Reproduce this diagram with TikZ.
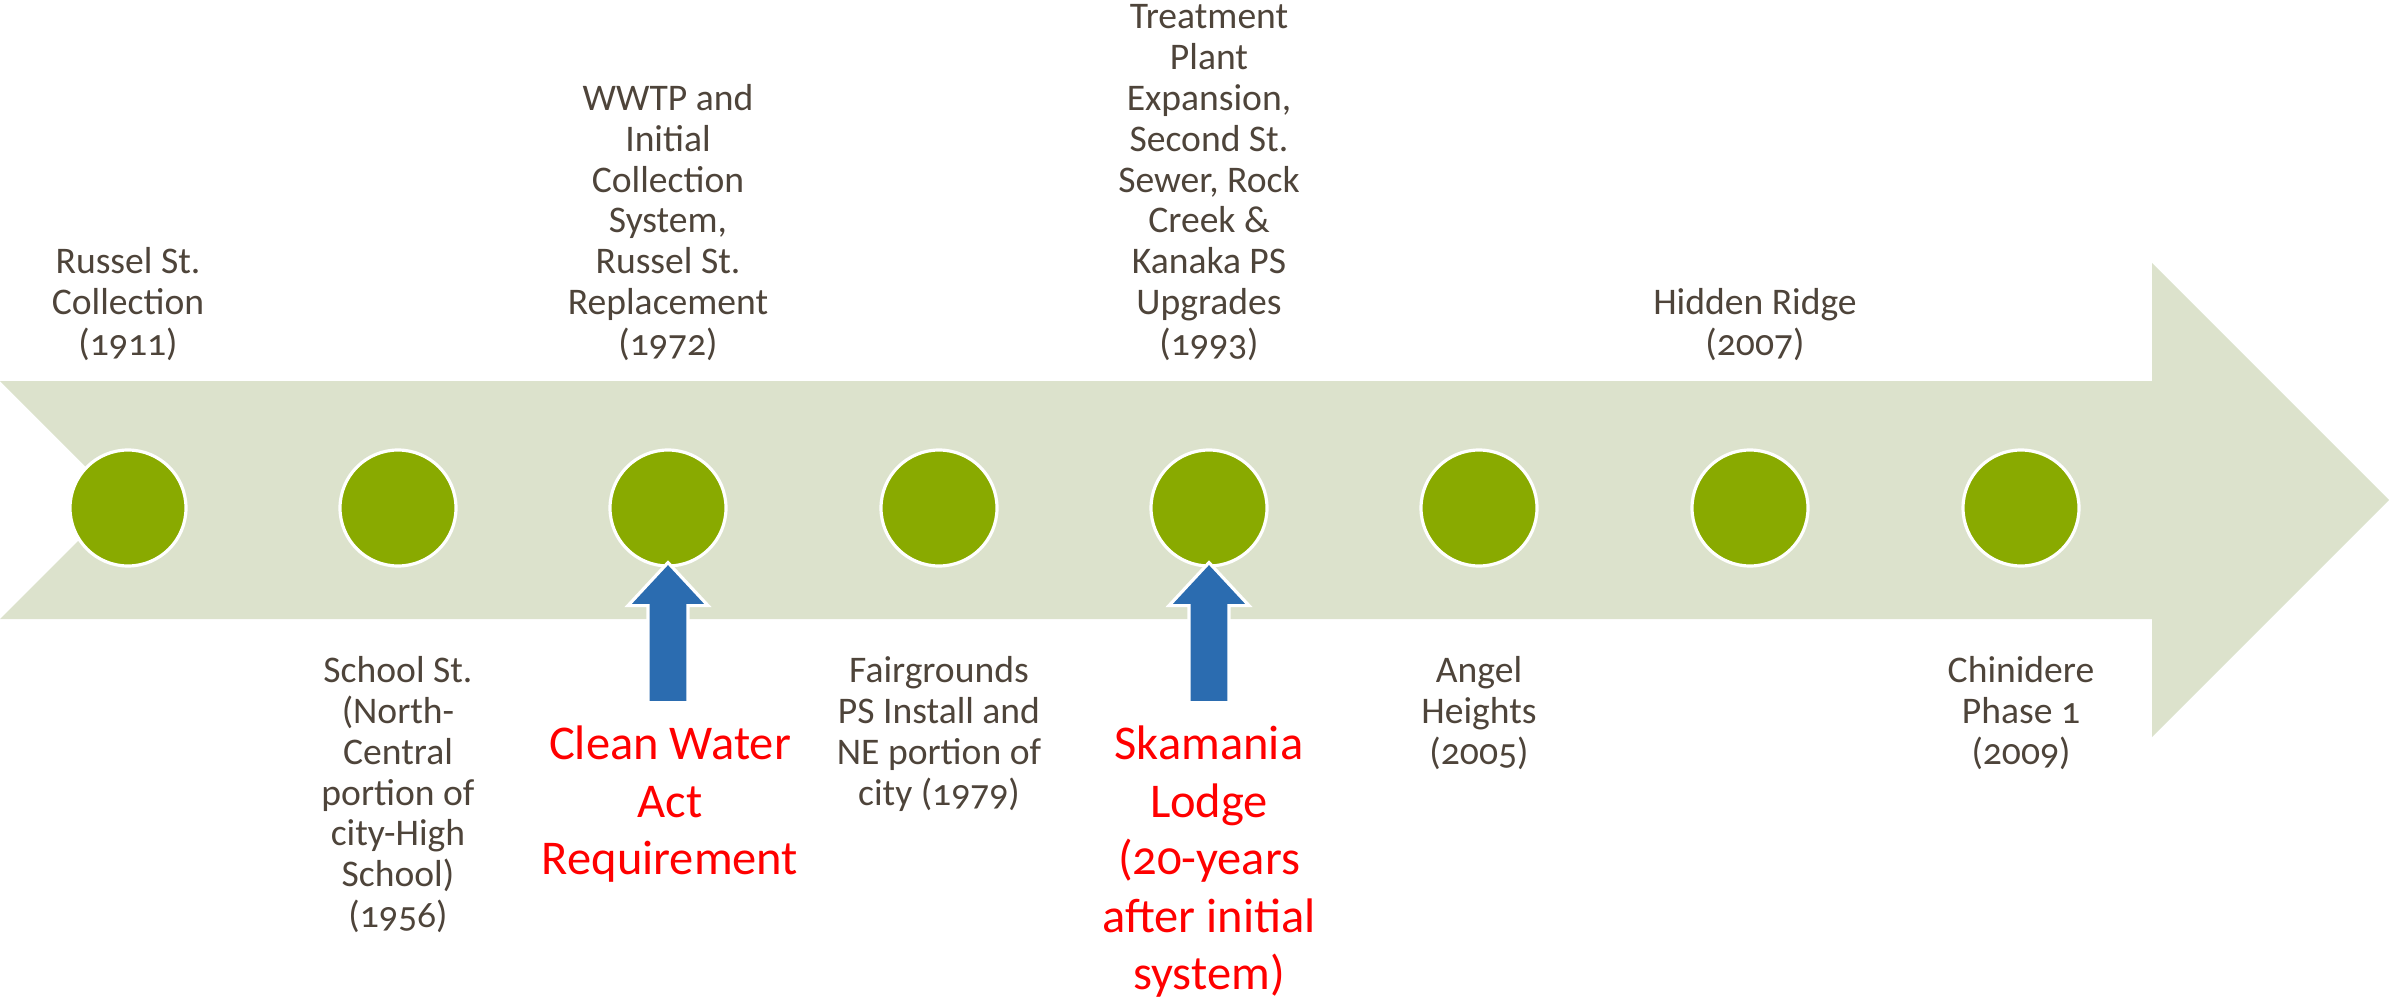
\documentclass[tikz,border=0pt]{standalone}
\usepackage{fontspec}
\setmainfont{Carlito}[Numbers=OldStyle]
\usepackage{tikz}

\definecolor{bandgreen}{RGB}{220,226,204}
\definecolor{dotgreen}{RGB}{137,170,0}
\definecolor{textbrown}{RGB}{78,68,58}
\definecolor{pointerblue}{RGB}{43,108,176}

\begin{document}
\begin{tikzpicture}[
    milestone/.style={circle, draw=white, line width=0.9pt, fill=dotgreen,
        minimum size=1.16cm, inner sep=0pt},
    toplabel/.style={anchor=south, align=center, inner sep=0pt, text=textbrown,
        font=\fontsize{10.7}{11.6}\selectfont},
    bottomlabel/.style={anchor=north, align=center, inner sep=0pt, text=textbrown,
        font=\fontsize{10.7}{11.6}\selectfont},
    note/.style={anchor=north, align=center, inner sep=0pt, text=red,
        font=\fontsize{13.8}{16.4}\selectfont},
    pointer/.style={fill=pointerblue, draw=white, line width=0.9pt, line join=miter}
]
    \useasboundingbox (0,0) rectangle (23.9,9.98);
    % timeline band
    \fill[bandgreen] (0,6.17) -- (21.52,6.17) -- (21.52,7.35) -- (23.89,4.98)
        -- (21.52,2.61) -- (21.52,3.79) -- (0,3.79) -- (1.19,4.98) -- cycle;

    \node[milestone] (m1) at (1.28,4.90) {};
    \node[milestone] (m2) at (3.98,4.90) {};
    \node[milestone] (m3) at (6.68,4.90) {};
    \node[milestone] (m4) at (9.39,4.90) {};
    \node[milestone] (m5) at (12.09,4.90) {};
    \node[milestone] (m6) at (14.79,4.90) {};
    \node[milestone] (m7) at (17.50,4.90) {};
    \node[milestone] (m8) at (20.21,4.90) {};

    \node[toplabel] (t1) at (1.28,6.37) {Russel St.\\Collection\\(1911)};
    \node[toplabel] (t3) at (6.68,6.37) {WWTP and\\Initial\\Collection\\System,\\Russel St.\\Replacement\\(1972)};
    \node[toplabel] (t5) at (12.09,6.37) {Treatment\\Plant\\Expansion,\\Second St.\\Sewer, Rock\\Creek \&\\Kanaka PS\\Upgrades\\(1993)};
    \node[toplabel] (t7) at (17.55,6.37) {Hidden Ridge\\(2007)};

    \node[bottomlabel] (b2) at (3.98,3.42) {School St.\\(North-\\Central\\portion of\\city-High\\School)\\(1956)};
    \node[bottomlabel] (b4) at (9.39,3.42) {Fairgrounds\\PS Install and\\NE portion of\\city (1979)};
    \node[bottomlabel] (b6) at (14.79,3.42) {Angel\\Heights\\(2005)};
    \node[bottomlabel] (b8) at (20.21,3.42) {Chinidere\\Phase 1\\(2009)};

    % blue pointers
    \draw[pointer] ([yshift=0.05cm]m3.south) -- ++(0.40,-0.43) -- ++(-0.20,0)
        -- ++(0,-0.97) -- ++(-0.40,0) -- ++(0,0.97) -- ++(-0.20,0) -- cycle;
    \draw[pointer] ([yshift=0.05cm]m5.south) -- ++(0.40,-0.43) -- ++(-0.20,0)
        -- ++(0,-0.97) -- ++(-0.40,0) -- ++(0,0.97) -- ++(-0.20,0) -- cycle;

    \node[note] (n3) at (6.70,2.73) {Clean Water\\Act\\Requirement};
    \node[note] (n5) at (12.09,2.73) {Skamania\\Lodge\\(20-years\\after initial\\system)};
\end{tikzpicture}
\end{document}
